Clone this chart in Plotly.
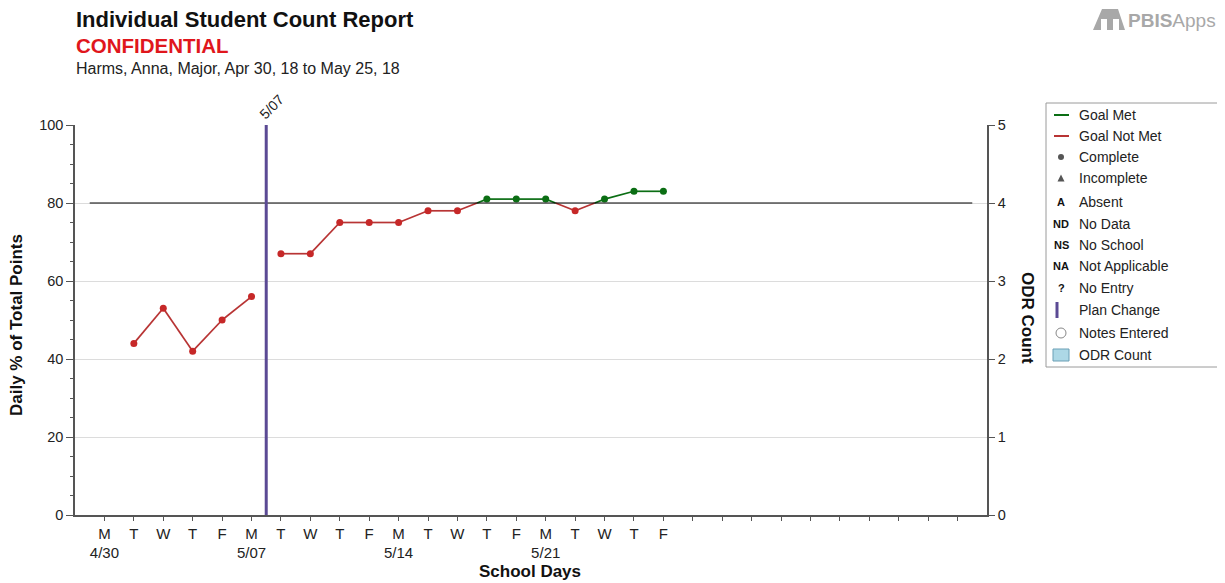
import plotly.graph_objects as go

# ---------------- data ----------------
day_letters = ["M", "T", "W", "T", "F", "M", "T", "W", "T", "F",
               "M", "T", "W", "T", "F", "M", "T", "W", "T", "F"]
week_dates = {0: "4/30", 5: "5/07", 10: "5/14", 15: "5/21"}
pct_points = [None, 44, 53, 42, 50, 56, 67, 67, 75, 75,
              75, 78, 78, 81, 81, 81, 78, 81, 83, 83]
odr_count = [0] * 20
goal = 80
plan_change_after = 5          # plan change between day 5 and day 6
plan_change_label = "5/07"
total_slots = 30
legend_items = ["Goal Met", "Goal Not Met", "Complete", "Incomplete", "Absent",
                "No Data", "No School", "Not Applicable", "No Entry",
                "Plan Change", "Notes Entered", "ODR Count"]
legend_codes = {"Absent": "A", "No Data": "ND", "No School": "NS",
                "Not Applicable": "NA", "No Entry": "?"}

RED_LINE = "#b83434"
RED_MK = "#c62828"
GREEN = "#0b6e14"
PURPLE = "#5b4a94"
FONT = "Arial, Liberation Sans, sans-serif"

W, H = 1225, 583
OFF = 8                       # page body margin shifts the figure by 8px
L, R, T, B = 75, 987, 125, 515  # plot area in screen pixels


def px(x):
    return (x - L) / (R - L)


def py(y):
    return (B - y) / (B - T)


# ---------------- build segments ----------------
phases = [list(range(0, plan_change_after + 1)),
          list(range(plan_change_after + 1, len(pct_points)))]
red_x, red_y, grn_x, grn_y = [], [], [], []
for ph in phases:
    pts = [(i, pct_points[i]) for i in ph if pct_points[i] is not None]
    for (x0, y0), (x1, y1) in zip(pts[:-1], pts[1:]):
        m0, m1 = y0 >= goal, y1 >= goal
        if m0 == m1:
            tx, ty = (grn_x, grn_y) if m0 else (red_x, red_y)
            tx += [x0, x1, None]
            ty += [y0, y1, None]
        else:
            xc = x0 + (goal - y0) / (y1 - y0) * (x1 - x0)
            ax, ay = (grn_x, grn_y) if m0 else (red_x, red_y)
            bx, by = (grn_x, grn_y) if m1 else (red_x, red_y)
            ax += [x0, xc, None]
            ay += [y0, goal, None]
            bx += [xc, x1, None]
            by += [goal, y1, None]

met_x = [i for i, v in enumerate(pct_points) if v is not None and v >= goal]
met_y = [pct_points[i] for i in met_x]
nm_x = [i for i, v in enumerate(pct_points) if v is not None and v < goal]
nm_y = [pct_points[i] for i in nm_x]

fig = go.Figure()
fig.add_trace(go.Bar(x=list(range(len(odr_count))), y=odr_count, yaxis="y2",
                     marker=dict(color="#add8e6", line=dict(width=0)),
                     showlegend=False, hoverinfo="skip"))
fig.add_trace(go.Scatter(x=red_x, y=red_y, mode="lines",
                         line=dict(color=RED_LINE, width=1.7), showlegend=False))
fig.add_trace(go.Scatter(x=grn_x, y=grn_y, mode="lines",
                         line=dict(color=GREEN, width=1.7), showlegend=False))
fig.add_trace(go.Scatter(x=nm_x, y=nm_y, mode="markers",
                         marker=dict(color=RED_MK, size=7), showlegend=False))
fig.add_trace(go.Scatter(x=met_x, y=met_y, mode="markers",
                         marker=dict(color=GREEN, size=7), showlegend=False))

# ---------------- ticks ----------------
tickvals = list(range(total_slots))
ticktext = []
for i in tickvals:
    if i < len(day_letters):
        t = day_letters[i]
        t += "<br>" + week_dates[i] if i in week_dates else "<br> "
        ticktext.append(t)
    else:
        ticktext.append("")

shapes = []
# goal line
shapes.append(dict(type="line", xref="x", yref="y", x0=-0.5, x1=total_slots - 0.5,
                   y0=goal, y1=goal, line=dict(color="black", width=1)))
# plan change
pcx = plan_change_after + 0.5
shapes.append(dict(type="line", xref="x", yref="y", x0=pcx, x1=pcx, y0=0, y1=100,
                   line=dict(color=PURPLE, width=3)))

annotations = []
annotations.append(dict(x=pcx, y=100, xref="x", yref="y", text=plan_change_label,
                        textangle=-45, showarrow=False, xanchor="center",
                        yanchor="bottom", xshift=5, yshift=0,
                        font=dict(size=14, color="#222", family=FONT)))

# titles
annotations += [
    dict(x=px(74), y=py(19), xref="paper", yref="paper", xanchor="left", yanchor="middle",
         text="<b>Individual Student Count Report</b>", showarrow=False,
         font=dict(size=22, color="#111", family=FONT)),
    dict(x=px(74), y=py(45), xref="paper", yref="paper", xanchor="left", yanchor="middle",
         text="<b>CONFIDENTIAL</b>", showarrow=False,
         font=dict(size=20.5, color="#e0161c", family=FONT)),
    dict(x=px(74), y=py(68), xref="paper", yref="paper", xanchor="left", yanchor="middle",
         text="Harms, Anna, Major, Apr 30, 18 to May 25, 18", showarrow=False,
         font=dict(size=16, color="#222", family=FONT)),
    dict(x=px(16), y=py(325), xref="paper", yref="paper", xanchor="center", yanchor="middle",
         text="<b>Daily % of Total Points</b>", textangle=-90, showarrow=False,
         font=dict(size=17, color="#111", family=FONT)),
    dict(x=px(530), y=py(571), xref="paper", yref="paper", xanchor="center", yanchor="middle",
         text="<b>School Days</b>", showarrow=False,
         font=dict(size=17, color="#111", family=FONT)),
    dict(x=px(1028), y=py(318), xref="paper", yref="paper", xanchor="center", yanchor="middle",
         text="<b>ODR Count</b>", textangle=90, showarrow=False,
         font=dict(size=17, color="#111", family=FONT)),
]

# logo
annotations.append(dict(x=px(1126), y=py(20), xref="paper", yref="paper", xanchor="left",
                        yanchor="middle", showarrow=False,
                        text="<b>PBIS</b>Apps",
                        font=dict(size=19, color="#a8a8a8", family=FONT)))
shapes.append(dict(type="path", xref="paper", yref="paper",
                   path=f"M {px(1093)},{py(30)} L {px(1102)},{py(9)} L {px(1118)},{py(9)} "
                        f"L {px(1125)},{py(30)} L {px(1119)},{py(30)} L {px(1119)},{py(19)} "
                        f"L {px(1113)},{py(19)} L {px(1113)},{py(30)} L {px(1107)},{py(30)} "
                        f"L {px(1107)},{py(19)} L {px(1101)},{py(19)} L {px(1101)},{py(30)} Z",
                   fillcolor="#a8a8a8", line=dict(width=0)))

# ---------------- legend box ----------------
shapes.append(dict(type="rect", xref="paper", yref="paper",
                   x0=px(1046), x1=px(1223), y0=py(367), y1=py(103),
                   line=dict(color="#9a9a9a", width=1), fillcolor="white"))
leg_y = [115, 136, 157, 178, 202, 224, 245, 266, 288, 310, 333, 355]
sx = 1061
for name, yy in zip(legend_items, leg_y):
    annotations.append(dict(x=px(1077), y=py(yy), xref="paper", yref="paper",
                            xanchor="left", yanchor="middle", text=name, showarrow=False,
                            font=dict(size=14, color="#222", family=FONT)))
    if name == "Goal Met":
        shapes.append(dict(type="line", xref="paper", yref="paper", x0=px(1054), x1=px(1069),
                           y0=py(yy), y1=py(yy), line=dict(color=GREEN, width=2)))
    elif name == "Goal Not Met":
        shapes.append(dict(type="line", xref="paper", yref="paper", x0=px(1054), x1=px(1069),
                           y0=py(yy), y1=py(yy), line=dict(color=RED_LINE, width=2)))
    elif name == "Complete":
        shapes.append(dict(type="circle", xref="paper", yref="paper", x0=px(sx - 3),
                           x1=px(sx + 3), y0=py(yy + 3), y1=py(yy - 3),
                           fillcolor="#555", line=dict(width=0)))
    elif name == "Incomplete":
        shapes.append(dict(type="path", xref="paper", yref="paper",
                           path=f"M {px(sx-3.5)},{py(yy+3.5)} L {px(sx+3.5)},{py(yy+3.5)} "
                                f"L {px(sx)},{py(yy-3.5)} Z",
                           fillcolor="#555", line=dict(width=0)))
    elif name in legend_codes:
        annotations.append(dict(x=px(sx), y=py(yy), xref="paper", yref="paper",
                                xanchor="center", yanchor="middle",
                                text="<b>" + legend_codes[name] + "</b>", showarrow=False,
                                font=dict(size=11, color="#111", family=FONT)))
    elif name == "Plan Change":
        shapes.append(dict(type="line", xref="paper", yref="paper", x0=px(1057), x1=px(1057),
                           y0=py(yy - 8), y1=py(yy + 8), line=dict(color=PURPLE, width=3)))
    elif name == "Notes Entered":
        shapes.append(dict(type="circle", xref="paper", yref="paper", x0=px(sx - 5),
                           x1=px(sx + 5), y0=py(yy + 5), y1=py(yy - 5),
                           fillcolor="white", line=dict(color="#888", width=1)))
    elif name == "ODR Count":
        shapes.append(dict(type="rect", xref="paper", yref="paper", x0=px(1053),
                           x1=px(1069), y0=py(yy + 6), y1=py(yy - 6),
                           fillcolor="#add8e6", line=dict(color="#6a9fb5", width=1)))

fig.update_layout(
    width=W, height=H,
    margin=dict(l=L - OFF, r=W - (R - OFF), t=T - OFF, b=H - (B - OFF), pad=0),
    paper_bgcolor="white", plot_bgcolor="white",
    font=dict(family=FONT, size=14, color="#222"),
    showlegend=False,
    xaxis=dict(range=[-1, total_slots], tickvals=tickvals, ticktext=ticktext,
               ticks="outside", ticklen=4, tickcolor="#555", showgrid=False,
               showline=True, linecolor="#555", linewidth=1.5, zeroline=False,
               tickfont=dict(size=15, color="#222")),
    yaxis=dict(range=[0, 100], dtick=20, ticks="outside", ticklen=7, tickcolor="#555",
               showgrid=True, gridcolor="#dcdcdc", gridwidth=1, showline=True,
               linecolor="#555", linewidth=1.5, zeroline=False,
               minor=dict(dtick=5, ticks="outside", ticklen=3, tickcolor="#555", showgrid=False),
               tickfont=dict(size=14.5, color="#222")),
    yaxis2=dict(range=[0, 5], dtick=1, overlaying="y", side="right", ticks="outside",
                ticklen=6, tickcolor="#555", showgrid=False, showline=True,
                linecolor="#555", linewidth=1.5, zeroline=False,
                tickfont=dict(size=14.5, color="#222")),
    shapes=shapes, annotations=annotations,
)

fig.write_html("out.html")
